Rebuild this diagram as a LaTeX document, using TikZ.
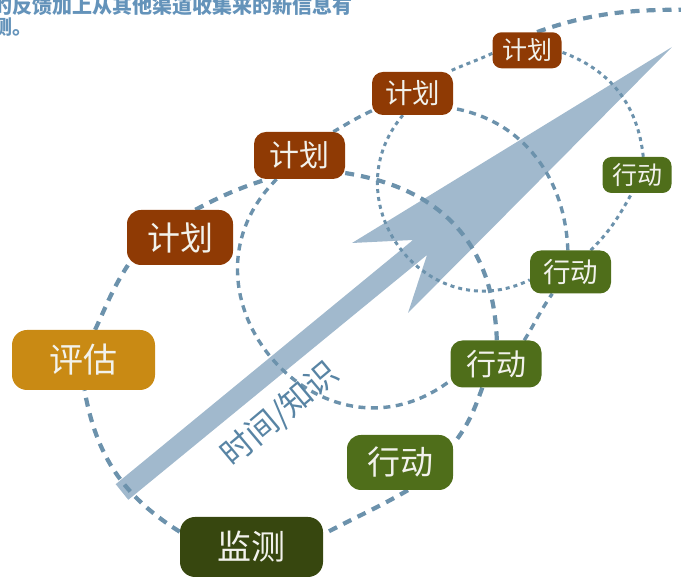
\documentclass[tikz,border=0pt]{standalone}
\usepackage{fontspec}
\newfontfamily\cjk{Noto Sans CJK SC}
\usetikzlibrary{backgrounds}

\definecolor{plancol}{RGB}{143,58,4}
\definecolor{actcol}{RGB}{79,110,26}
\definecolor{evalcol}{RGB}{201,138,20}
\definecolor{moncol}{RGB}{55,71,15}
\definecolor{loopcol}{RGB}{108,146,172}
\definecolor{arrowcol}{RGB}{161,185,205}
\definecolor{labelcol}{RGB}{88,132,164}
\definecolor{headcol}{RGB}{100,147,186}
\definecolor{tagtext}{RGB}{242,242,236}

\tikzset{
    stagebox/.style={rounded corners=#1, inner sep=0pt, text=tagtext},
    loopA/.style={draw=loopcol, line width=4.2pt, dash pattern=on 9pt off 7pt},
    loopB/.style={draw=loopcol, line width=3.4pt, dash pattern=on 7pt off 5.5pt},
    loopC/.style={draw=loopcol, line width=3pt, dash pattern=on 4pt off 4pt},
}

\begin{document}
\begin{tikzpicture}[x=1pt,y=1pt]
    \useasboundingbox (0,0) rectangle (681,577);

    % Draw the first two stages
    \node[stagebox=15pt, fill=evalcol, minimum width=143pt, minimum height=60pt,
          font=\cjk\fontsize{34}{34}\selectfont] (eval) at (83.5,217) {评估};
    \node[stagebox=15pt, fill=moncol, minimum width=143pt, minimum height=60pt,
          font=\cjk\fontsize{34}{34}\selectfont] (monitor) at (251.5,30) {监测};

    % Draw plan and act boxes, smaller with each round
    \foreach \i/\px/\py/\ax/\ay/\w/\h/\r/\s in {1/180/339.5/400/114.5/106/55/14/33,
                                              2/299.5/421.5/496/213/91/47/12/30,
                                              3/412.5/483.5/570.5/305/81/43/11/27.5,
                                              4/527/526.7/637/402/69/36/9/25} {
        \node[stagebox=\r pt, fill=plancol, minimum width=\w pt, minimum height=\h pt,
              font=\cjk\fontsize{\s}{\s}\selectfont] (plan\i) at (\px,\py) {计划};
        \node[stagebox=\r pt, fill=actcol, minimum width=\w pt, minimum height=\h pt,
              font=\cjk\fontsize{\s}{\s}\selectfont] (act\i) at (\ax,\ay) {行动};
    }

    % Label along the arrow
    \node[rotate=40, text=labelcol, font=\cjk\fontsize{32}{32}\selectfont] (axis) at (280,163) {时间/知识};

    % Cut-off note at the top
    \node[anchor=base west, inner sep=0pt, text=headcol, font=\cjk\bfseries\fontsize{20}{20}\selectfont]
        (note1) at (-8,563.5) {的反馈加上从其他渠道收集来的新信息有};
    \node[anchor=base west, inner sep=0pt, text=headcol, font=\cjk\bfseries\fontsize{20}{20}\selectfont]
        (note2) at (-8,542.5) {测。};

    \begin{pgfonlayer}{background}
        % Draw the big arrow
        \fill[arrowcol] (115.7,92.8) -- (413,337) -- (352,334) -- (672,530)
            -- (408,264) -- (427,322) -- (128.3,77.2) -- cycle;

        % First loop
        \draw[loopA] (eval.69) to[out=65,in=237] (plan1.208);
        \draw[loopA] (plan1.61) to[out=28,in=198] (plan2.216);
        \draw[loopA] (plan2.-21) to[out=-9,in=92,looseness=1.1] (act2.88);
        \draw[loopA] (act2.240) to[out=250,in=52] (act1.19);
        \draw[loopA] (act1.-74) to[out=210,in=28] (monitor.10);
        \draw[loopA] (monitor.168) to[out=148,in=280] (eval.272);

        % Second loop
        \draw[loopB] (plan2.226) to[out=225,in=217,looseness=1.55] (act2.200);
        \draw[loopB] (act2.40) to[out=58,in=235] (act3.230);
        \draw[loopB] (act3.97) to[out=92,in=-10] (plan3.-20);
        \draw[loopB] (plan3.203) to[out=205,in=30] (plan2.35);

        % Third loop
        \draw[loopC] (plan3.246) to[out=230,in=206,looseness=1.4] (act3.191);
        \draw[loopC] (act3.47) to[out=45,in=241] (act4.254);
        \draw[loopC] (act4.71) to[out=96,in=-20] (plan4.-3);
        \draw[loopC] (plan4.185) to[out=205,in=25] (plan3.31);

        % Outer loop leaves the picture
        \coordinate (outer) at (760,568);
        \draw[loopA] (plan4.61) to[out=20,in=182] (outer);
    \end{pgfonlayer}
\end{tikzpicture}
\end{document}
